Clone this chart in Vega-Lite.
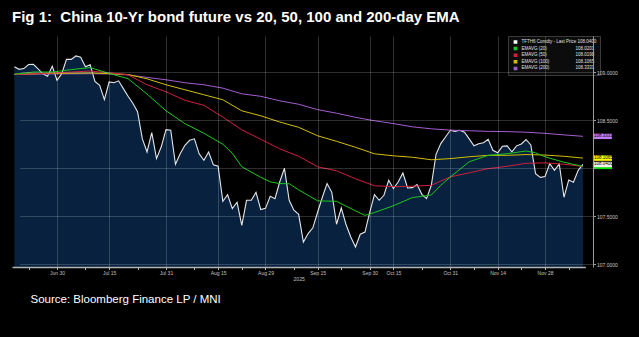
{
  "$schema": "https://vega.github.io/schema/vega-lite/v6.json",
  "width": 581,
  "height": 231,
  "autosize": {"type": "none"},
  "padding": {"left": 12, "top": 36, "right": 46, "bottom": 70},
  "background": "#000000",
  "config": {"view": {"stroke": null}, "font": "Liberation Sans"},
  "title": {
    "text": "Fig 1:\u00a0 China 10-Yr bond future vs 20, 50, 100 and 200-day EMA",
    "anchor": "start", "frame": "group", "font": "Liberation Sans", "fontSize": 15,
    "fontWeight": "bold", "color": "#ffffff", "baseline": "alphabetic", "offset": -1
  },
  "data": {"values": [
    {"date":"2025-06-17","price":109.057,"e20":108.979,"e50":108.976,"e100":108.979,"e200":108.979},
    {"date":"2025-06-18","price":109.031},
    {"date":"2025-06-19","price":109.039},
    {"date":"2025-06-20","price":109.081},
    {"date":"2025-06-23","price":109.083,"e20":109.003,"e50":108.984,"e100":108.984,"e200":108.981},
    {"date":"2025-06-24","price":109.036},
    {"date":"2025-06-25","price":108.984},
    {"date":"2025-06-26","price":108.958},
    {"date":"2025-06-27","price":109.063,"e20":109.003,"e50":108.993,"e100":108.990,"e200":108.983},
    {"date":"2025-06-30","price":108.917},
    {"date":"2025-07-01","price":108.986},
    {"date":"2025-07-02","price":109.135},
    {"date":"2025-07-03","price":109.135,"e20":109.028,"e50":109.003,"e100":108.990,"e200":108.984},
    {"date":"2025-07-04","price":109.170},
    {"date":"2025-07-07","price":109.156},
    {"date":"2025-07-08","price":109.057},
    {"date":"2025-07-09","price":109.078,"e20":109.049,"e50":109.013,"e100":108.993,"e200":108.985},
    {"date":"2025-07-10","price":108.906},
    {"date":"2025-07-11","price":108.865},
    {"date":"2025-07-14","price":108.716},
    {"date":"2025-07-15","price":108.899,"e20":108.988,"e50":108.995,"e100":108.986,"e200":108.983},
    {"date":"2025-07-16","price":108.891},
    {"date":"2025-07-17","price":108.911},
    {"date":"2025-07-18","price":108.830},
    {"date":"2025-07-21","price":108.750,"e20":108.934,"e50":108.974,"e100":108.977,"e200":108.972},
    {"date":"2025-07-22","price":108.677},
    {"date":"2025-07-23","price":108.589},
    {"date":"2025-07-24","price":108.309},
    {"date":"2025-07-25","price":108.170,"e20":108.773,"e50":108.870,"e100":108.932,"e200":108.947},
    {"date":"2025-07-28","price":108.372},
    {"date":"2025-07-29","price":108.101},
    {"date":"2025-07-30","price":108.224},
    {"date":"2025-07-31","price":108.403,"e20":108.599,"e50":108.797,"e100":108.870,"e200":108.922},
    {"date":"2025-08-01","price":108.396},
    {"date":"2025-08-04","price":108.042},
    {"date":"2025-08-05","price":108.151},
    {"date":"2025-08-06","price":108.240,"e20":108.465,"e50":108.708,"e100":108.818,"e200":108.891},
    {"date":"2025-08-07","price":108.292},
    {"date":"2025-08-08","price":108.307},
    {"date":"2025-08-11","price":108.151},
    {"date":"2025-08-12","price":108.083,"e20":108.365,"e50":108.656,"e100":108.766,"e200":108.870},
    {"date":"2025-08-13","price":108.170},
    {"date":"2025-08-14","price":108.036},
    {"date":"2025-08-15","price":108.023},
    {"date":"2025-08-18","price":107.656,"e20":108.251,"e50":108.533,"e100":108.714,"e200":108.835},
    {"date":"2025-08-19","price":107.724},
    {"date":"2025-08-20","price":107.580,"e20":108.156},
    {"date":"2025-08-21","price":107.646},
    {"date":"2025-08-22","price":107.406,"e20":108.016,"e50":108.401,"e100":108.599,"e200":108.776},
    {"date":"2025-08-25","price":107.667},
    {"date":"2025-08-26","price":107.667},
    {"date":"2025-08-27","price":107.750},
    {"date":"2025-08-28","price":107.570,"e20":107.906,"e50":108.302,"e100":108.547,"e200":108.750},
    {"date":"2025-08-29","price":107.583},
    {"date":"2025-09-01","price":107.708,"e20":107.859},
    {"date":"2025-09-02","price":107.684},
    {"date":"2025-09-03","price":107.857,"e20":107.841,"e50":108.203,"e100":108.482,"e200":108.703},
    {"date":"2025-09-04","price":108.000},
    {"date":"2025-09-05","price":107.667,"e20":107.839},
    {"date":"2025-09-08","price":107.563},
    {"date":"2025-09-09","price":107.521,"e20":107.776,"e50":108.125,"e100":108.427,"e200":108.667},
    {"date":"2025-09-10","price":107.232},
    {"date":"2025-09-11","price":107.320},
    {"date":"2025-09-12","price":107.380},
    {"date":"2025-09-15","price":107.542,"e20":107.661,"e50":108.016,"e100":108.339,"e200":108.611},
    {"date":"2025-09-16","price":107.698},
    {"date":"2025-09-17","price":107.841},
    {"date":"2025-09-18","price":107.750},
    {"date":"2025-09-19","price":107.417,"e20":107.656,"e50":107.974,"e100":108.281,"e200":108.574},
    {"date":"2025-09-22","price":107.586},
    {"date":"2025-09-23","price":107.414},
    {"date":"2025-09-24","price":107.284},
    {"date":"2025-09-25","price":107.180,"e20":107.557,"e50":107.891,"e100":108.219,"e200":108.531},
    {"date":"2025-09-26","price":107.313},
    {"date":"2025-09-29","price":107.336,"e20":107.510},
    {"date":"2025-09-30","price":107.542},
    {"date":"2025-10-09","price":107.726,"e20":107.539,"e50":107.818,"e100":108.151,"e200":108.495},
    {"date":"2025-10-10","price":107.667},
    {"date":"2025-10-13","price":107.719},
    {"date":"2025-10-14","price":107.875},
    {"date":"2025-10-15","price":107.789,"e20":107.610,"e50":107.809,"e100":108.130,"e200":108.466},
    {"date":"2025-10-16","price":107.857},
    {"date":"2025-10-17","price":107.951},
    {"date":"2025-10-20","price":107.795},
    {"date":"2025-10-21","price":107.799,"e20":107.695,"e50":107.813,"e100":108.115,"e200":108.432},
    {"date":"2025-10-22","price":107.830},
    {"date":"2025-10-23","price":107.729},
    {"date":"2025-10-24","price":107.684},
    {"date":"2025-10-27","price":107.823,"e20":107.722,"e50":107.823,"e100":108.089,"e200":108.411},
    {"date":"2025-10-28","price":108.146},
    {"date":"2025-10-29","price":108.257,"e20":107.823},
    {"date":"2025-10-30","price":108.326},
    {"date":"2025-10-31","price":108.396,"e20":107.909,"e50":107.911,"e100":108.101,"e200":108.398},
    {"date":"2025-11-03","price":108.385},
    {"date":"2025-11-04","price":108.396},
    {"date":"2025-11-05","price":108.375},
    {"date":"2025-11-06","price":108.307,"e20":108.068,"e50":107.953,"e100":108.120,"e200":108.391},
    {"date":"2025-11-07","price":108.234},
    {"date":"2025-11-10","price":108.255},
    {"date":"2025-11-11","price":108.266},
    {"date":"2025-11-12","price":108.302,"e20":108.135,"e50":107.997,"e100":108.135,"e200":108.385},
    {"date":"2025-11-13","price":108.188},
    {"date":"2025-11-14","price":108.161},
    {"date":"2025-11-17","price":108.229},
    {"date":"2025-11-18","price":108.234,"e20":108.152,"e50":108.021,"e100":108.135,"e200":108.382},
    {"date":"2025-11-19","price":108.172},
    {"date":"2025-11-20","price":108.234},
    {"date":"2025-11-21","price":108.253},
    {"date":"2025-11-24","price":108.300,"e20":108.180,"e50":108.052,"e100":108.143,"e200":108.376},
    {"date":"2025-11-25","price":108.243},
    {"date":"2025-11-26","price":107.945,"e20":108.161},
    {"date":"2025-11-27","price":107.906},
    {"date":"2025-11-28","price":107.914,"e20":108.120,"e50":108.057,"e100":108.138,"e200":108.364},
    {"date":"2025-12-01","price":108.049},
    {"date":"2025-12-02","price":107.979},
    {"date":"2025-12-03","price":108.045},
    {"date":"2025-12-04","price":107.698,"e20":108.063,"e50":108.042,"e100":108.125,"e200":108.348},
    {"date":"2025-12-05","price":107.878},
    {"date":"2025-12-08","price":107.854},
    {"date":"2025-12-09","price":107.979},
    {"date":"2025-12-10","price":108.040,"e20":108.0201,"e50":108.0198,"e100":108.1065,"e200":108.3331}
  ]},
  "resolve": {"axis": {"x": "independent"}, "scale": {"color": "independent"}},
  "layer": [
    {
      "mark": {"type": "area", "color": "#07213f", "opacity": 1, "clip": true,
               "line": {"color": "#e6e6e6", "strokeWidth": 1.1}},
      "encoding": {
        "x": {
          "field": "date", "type": "ordinal",
          "scale": {"type": "point", "range": [0, 573.3]},
          "axis": {
            "orient": "bottom", "zindex": 1,
            "values": ["2025-06-20","2025-06-30","2025-07-08","2025-07-15","2025-07-23","2025-07-31","2025-08-08","2025-08-15","2025-08-22","2025-08-29","2025-09-08","2025-09-15","2025-09-22","2025-09-30","2025-10-15","2025-10-23","2025-10-31","2025-11-07","2025-11-14","2025-11-21","2025-11-28","2025-12-05"],
            "labelExpr": "indexof(['2025-06-20','2025-07-08','2025-07-23','2025-08-08','2025-08-22','2025-09-08','2025-09-22','2025-10-23','2025-11-07','2025-11-21','2025-12-05'], datum.value) >= 0 ? '' : utcFormat(toDate(datum.value), '%b %d')",
            "labelAngle": 0, "labelFontSize": 5, "labelColor": "#c0c0c0", "labelPadding": 1,
            "labelFont": "Liberation Sans", "labelOverlap": false,
            "domainColor": "#b4b4b4", "domainWidth": 1.5,
            "tickColor": "#b4b4b4", "tickSize": 2.5,
            "grid": true, "gridColor": "#ffffff",
            "gridOpacity": {"condition": {"test": "indexof(['2025-06-20','2025-07-08','2025-07-23','2025-08-08','2025-08-22','2025-09-08','2025-09-22','2025-10-23','2025-11-07','2025-11-21','2025-12-05'], datum.value) >= 0", "value": 0}, "value": 0.18},
            "title": "2025", "titleFontSize": 5, "titleColor": "#c0c0c0", "titleFontWeight": "normal",
            "titleFont": "Liberation Sans", "titlePadding": 1
          }
        },
        "y": {
          "field": "price", "type": "quantitative",
          "scale": {"domain": [106.972, 109.378], "zero": false, "nice": false},
          "axis": {
            "orient": "right", "zindex": 1, "title": null,
            "values": [107, 107.25, 107.5, 107.75, 108, 108.25, 108.5, 108.75, 109],
            "labelExpr": "datum.value * 2 != round(datum.value * 2) || datum.value == 108 ? '' : format(datum.value, '.4f')",
            "labelOverlap": false, "labelFlush": false, "labelBound": false,
            "labelFont": "Liberation Sans", "labelBaseline": "middle",
            "labelFontSize": 5, "labelColor": "#c8c8c8", "labelPadding": 1,
            "domainColor": "#9a9a9a", "domainWidth": 1,
            "tickColor": "#9a9a9a", "tickSize": 2.5,
            "grid": true, "gridColor": "#ffffff",
            "gridOpacity": {"condition": {"test": "datum.value * 2 == round(datum.value * 2)", "value": 0.18}, "value": 0}
          }
        }
      }
    },
    {
      "transform": [
        {"fold": ["e200", "e100", "e50", "e20"], "as": ["series", "value"]},
        {"filter": "isValid(datum.value)"}
      ],
      "mark": {"type": "line", "strokeWidth": 1},
      "encoding": {
        "x": {
          "field": "date", "type": "ordinal",
          "axis": {
            "orient": "bottom", "labels": false, "ticks": false, "domain": false, "grid": false,
            "title": "Source: Bloomberg Finance LP / MNI",
            "titleFont": "Liberation Sans", "titleFontSize": 11.5, "titleFontWeight": "normal",
            "titleColor": "#ffffff", "titleAnchor": "start", "titleAlign": "left",
            "titleX": 18, "titleY": 35, "titleBaseline": "alphabetic"
          }
        },
        "y": {"field": "value", "type": "quantitative", "axis": {"title": null}},
        "color": {
          "field": "series", "type": "nominal",
          "scale": {"domain": ["price", "e20", "e50", "e100", "e200"],
                    "range": ["#ffffff", "#1ec81e", "#d0203c", "#d2be00", "#a25ed0"]},
          "legend": {
            "orient": "none", "legendX": 496, "legendY": 0, "title": null, "direction": "vertical",
            "fillColor": "#0c0c0c", "strokeColor": "#3a3a3a", "padding": 3.5, "rowPadding": 0.6,
            "clipHeight": 5,
            "symbolType": "stroke", "symbolSize": 14, "symbolStrokeWidth": 3.5,
            "labelFontSize": 4.5, "labelColor": "#e0e0e0", "labelOffset": 2, "labelLimit": 200,
            "labelFont": "Liberation Sans",
            "labelExpr": "datum.value == 'price' ? 'TFTH6 Comdty - Last Price\u00a0108.0400' : datum.value == 'e20' ? 'EMAVG (20)\u00a0\u00a0\u00a0\u00a0\u00a0\u00a0\u00a0\u00a0\u00a0\u00a0\u00a0\u00a0\u00a0\u00a0\u00a0\u00a0\u00a0\u00a0\u00a0\u00a0\u00a0\u00a0\u00a0108.0201' : datum.value == 'e50' ? 'EMAVG (50)\u00a0\u00a0\u00a0\u00a0\u00a0\u00a0\u00a0\u00a0\u00a0\u00a0\u00a0\u00a0\u00a0\u00a0\u00a0\u00a0\u00a0\u00a0\u00a0\u00a0\u00a0\u00a0\u00a0108.0198' : datum.value == 'e100' ? 'EMAVG (100)\u00a0\u00a0\u00a0\u00a0\u00a0\u00a0\u00a0\u00a0\u00a0\u00a0\u00a0\u00a0\u00a0\u00a0\u00a0\u00a0\u00a0\u00a0\u00a0\u00a0\u00a0108.1065' : 'EMAVG (200)\u00a0\u00a0\u00a0\u00a0\u00a0\u00a0\u00a0\u00a0\u00a0\u00a0\u00a0\u00a0\u00a0\u00a0\u00a0\u00a0\u00a0\u00a0\u00a0\u00a0\u00a0108.3331'"
          }
        }
      }
    },
    {
      "transform": [
        {"filter": "datum.date == '2025-12-10'"},
        {"fold": ["e200", "e100", "e20", "price"], "as": ["series", "value"]}
      ],
      "mark": {"type": "tick", "orient": "horizontal", "thickness": 5.5, "size": 19, "xOffset": 19.5, "clip": false, "opacity": 1},
      "encoding": {
        "x": {"field": "date", "type": "ordinal", "axis": null},
        "y": {"field": "value", "type": "quantitative", "axis": {"title": null}},
        "color": {
          "field": "series", "type": "nominal", "legend": null,
          "scale": {"domain": ["e200", "e100", "e20", "price"],
                    "range": ["#c07cff", "#ffff00", "#00e000", "#f2f2f2"]}
        }
      }
    },
    {
      "transform": [
        {"filter": "datum.date == '2025-12-10'"},
        {"fold": ["e200", "e100", "price"], "as": ["series", "value"]}
      ],
      "mark": {"type": "text", "align": "left", "baseline": "middle", "dx": 11, "fontSize": 4.5,
               "font": "Liberation Sans", "color": "#000000", "clip": false},
      "encoding": {
        "x": {"field": "date", "type": "ordinal", "axis": null},
        "y": {"field": "value", "type": "quantitative", "axis": {"title": null}},
        "text": {"field": "value", "type": "quantitative", "format": ".4f"}
      }
    }
  ]
}
